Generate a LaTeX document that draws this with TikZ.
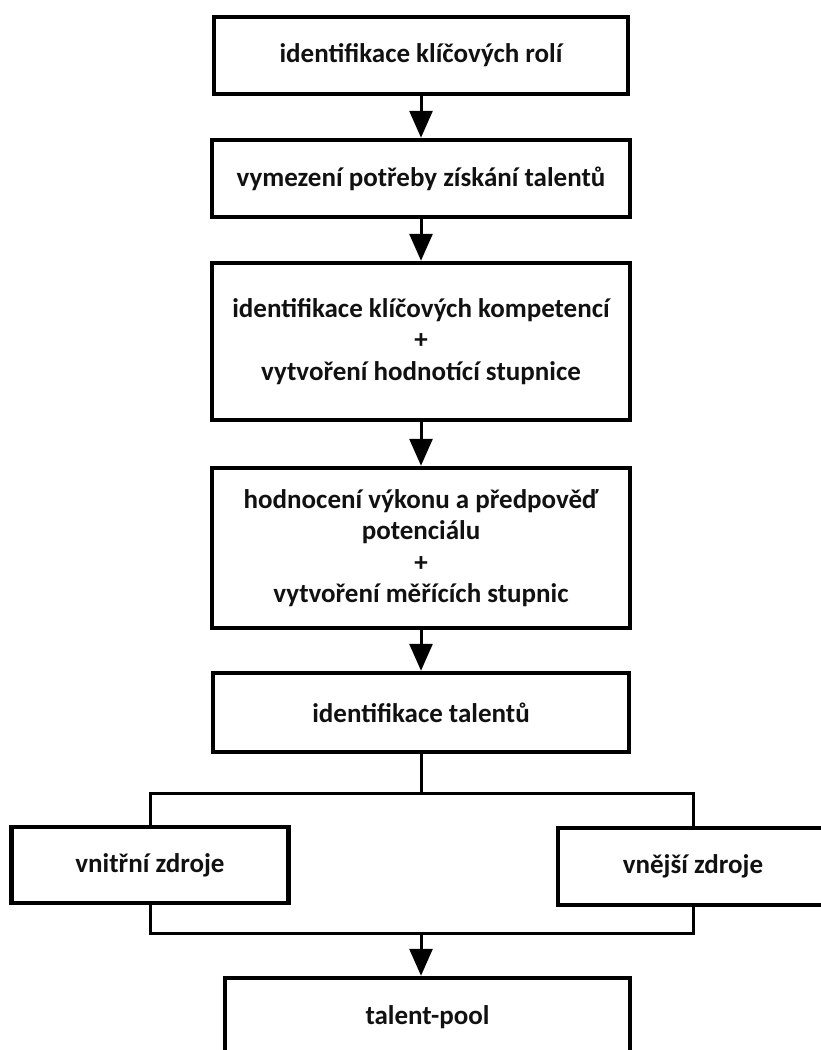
\documentclass[tikz,border=0pt]{standalone}
\usepackage{fontspec}
\setmainfont{Carlito}
\usepackage{tikz}
\usetikzlibrary{arrows.meta, positioning}
\definecolor{flowInk}{HTML}{000000}
\definecolor{flowText}{HTML}{111111}

\begin{document}
\begin{tikzpicture}[
    x=1pt, y=-1pt,
    stepbox/.style={rectangle, draw=flowInk, fill=white, line width=4.5pt, align=center, text=flowText,
        font=\bfseries\fontsize{27}{31.5}\selectfont, inner sep=0pt},
    link/.style={draw=flowInk, line width=3pt},
    flow/.style={link, -{Triangle[length=27pt, width=23pt]}}
]
    \useasboundingbox (0,0) rectangle (821,1050);
    \clip (0,0) rectangle (821,1050);

    \node[stepbox, minimum width=414pt, minimum height=77pt] (roles) at (421,55.5) {identifikace klíčových rolí};
    \node[stepbox, minimum width=418pt, minimum height=77pt] (need) at (421,178.5) {vymezení potřeby získání talentů};
    \node[stepbox, minimum width=418pt, minimum height=157pt] (comp) at (421,341.5) {identifikace klíčových kompetencí\\+\\vytvoření hodnotící stupnice};
    \node[stepbox, minimum width=418pt, minimum height=160pt] (perf) at (421,548) {hodnocení výkonu a předpověď\\potenciálu\\+\\vytvoření měřících stupnic};
    \node[stepbox, minimum width=416pt, minimum height=79pt] (ident) at (421,712.5) {identifikace talentů};
    \node[stepbox, minimum width=277pt, minimum height=76pt] (internal) at (150,865) {vnitřní zdroje};
    \node[stepbox, minimum width=270pt, minimum height=77pt] (external) at (693,866.5) {vnější zdroje};
    \node[stepbox, minimum width=405pt, minimum height=78pt] (pool) at (427.5,1017) {talent-pool};

    \coordinate (split) at (421,793);
    \coordinate (merge) at (421,933);

    \draw[flow] (roles) -- (need);
    \draw[flow] (need) -- (comp);
    \draw[flow] (comp) -- (perf);
    \draw[flow] (perf) -- (ident);

    \draw[link] (ident) -- (split);
    \draw[link] (internal.north) |- (split) -| (external.north);
    \draw[link] (internal.south) |- (merge) -| (external.south);
    \draw[flow] (merge) -- (merge |- pool.north);
\end{tikzpicture}
\end{document}
